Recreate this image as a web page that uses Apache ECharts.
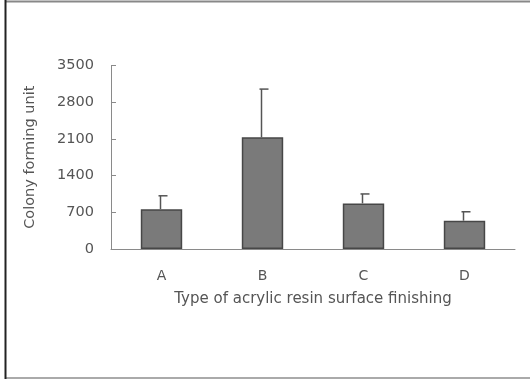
<!DOCTYPE html>
<html>
<head>
<meta charset="utf-8">
<script src="https://cdn.jsdelivr.net/npm/echarts@6/dist/echarts.min.js"></script>
<style>
  html, body { margin: 0; padding: 0; background: #fff; }
  #chart { width: 530px; height: 379px; }
</style>
</head>
<body>
<div id="chart"></div>
<script>
// Colony counts per acrylic resin surface finishing (mean and upper SD)
const categories = ['A', 'B', 'C', 'D'];
const means = [760, 2130, 870, 540];
const errors = [255, 920, 180, 170];
const yTicks = [0, 700, 1400, 2100, 2800, 3500];

const textColor = '#555';
const axisColor = '#8a8a8a';
const font = 'DejaVu Sans';

const chart = echarts.init(document.getElementById('chart'), null, { renderer: 'canvas' });

chart.setOption({
  backgroundColor: '#fff',
  animation: false,
  grid: { left: 111, right: 15, top: 65.5, bottom: 130, containLabel: false },
  xAxis: {
    type: 'category',
    data: categories,
    name: 'Type of acrylic resin surface finishing',
    nameLocation: 'middle',
    nameGap: 43,
    nameTextStyle: { color: textColor, fontFamily: font, fontSize: 15 },
    axisLine: { lineStyle: { color: axisColor, width: 1 } },
    axisTick: { inside: true, length: 5, lineStyle: { color: axisColor } },
    axisLabel: { color: textColor, fontFamily: font, fontSize: 14, margin: 20 }
  },
  yAxis: {
    type: 'value',
    min: yTicks[0],
    max: yTicks[yTicks.length - 1],
    interval: 700,
    name: 'Colony forming unit',
    nameLocation: 'middle',
    nameGap: 73,
    nameRotate: 90,
    nameTextStyle: { color: textColor, fontFamily: font, fontSize: 14.5 },
    axisLine: { show: true, lineStyle: { color: axisColor, width: 1 } },
    axisTick: { show: true, inside: true, length: 5, lineStyle: { color: axisColor } },
    splitLine: { show: false },
    axisLabel: {
      color: textColor, fontFamily: font, fontSize: 14.5, margin: 17,
      formatter: function (v) { return String(v); }
    }
  },
  series: [
    {
      type: 'bar',
      data: means,
      barWidth: '41%',
      itemStyle: { color: '#7a7a7a', borderColor: '#474747', borderWidth: 1.5 },
      z: 2
    },
    {
      // upper error bars
      type: 'custom',
      data: means.map((m, i) => [i, m, m + errors[i]]),
      renderItem: function (params, api) {
        const base = api.coord([api.value(0), api.value(1)]);
        const top = api.coord([api.value(0), api.value(2)]);
        const x = Math.round(base[0]) - 1.5;
        return {
          type: 'group',
          children: [
            { type: 'line', shape: { x1: x, y1: base[1], x2: x, y2: top[1] },
              style: { stroke: '#555', lineWidth: 1.5 } },
            { type: 'line', shape: { x1: x - 2, y1: top[1], x2: x + 7, y2: top[1] },
              style: { stroke: '#555', lineWidth: 1.5 } }
          ]
        };
      },
      z: 3
    }
  ],
  graphic: [
    { type: 'line', shape: { x1: 5, y1: 1.5, x2: 530, y2: 1.5 }, style: { stroke: '#888', lineWidth: 2 } },
    { type: 'line', shape: { x1: 5, y1: 378, x2: 530, y2: 378 }, style: { stroke: '#aaa', lineWidth: 2 } },
    { type: 'line', shape: { x1: 5.5, y1: 0, x2: 5.5, y2: 379 }, style: { stroke: '#222', lineWidth: 2 } }
  ]
});
</script>
</body>
</html>
